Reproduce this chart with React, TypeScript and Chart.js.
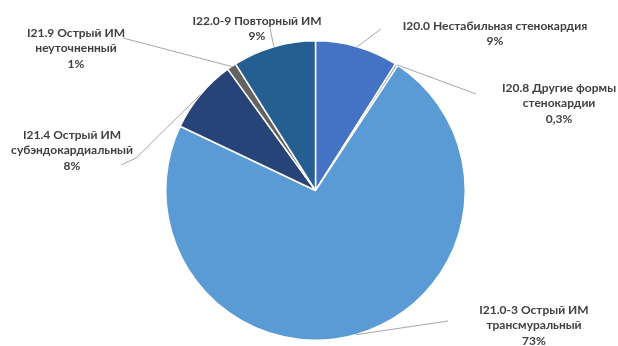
import React, { useEffect, useRef } from "react";
import { Chart, registerables } from "chart.js";

Chart.register(...registerables);

// Structure of acute coronary syndrome diagnoses (ICD-10 codes), percent
const codes = ["I20.0", "I20.8", "I21.0-3", "I21.4", "I21.9", "I22.0-9"];
const names = [
  ["Нестабильная стенокардия"],
  ["Другие формы", "стенокардии"],
  ["Острый ИМ", "трансмуральный"],
  ["Острый ИМ", "субэндокардиальный"],
  ["Острый ИМ", "неуточненный"],
  ["Повторный ИМ"],
];
const shares = [9, 0.3, 73, 8, 1, 9];
const shareLabels = ["9%", "0,3%", "73%", "8%", "1%", "9%"];
const colors = ["#4472C4", "#A5A5A5", "#5B9BD5", "#264478", "#636363", "#255E91"];

// Label placement: text block centre x, first line centre y, leader line bends/ends
const labelLayout = [
  { x: 495, y: 26, leader: [[381, 29]] },
  { x: 559, y: 88, leader: [[476, 94]] },
  { x: 534, y: 310, leader: [[448, 321]] },
  { x: 72, y: 135, leader: [[136, 158], [121, 165]] },
  { x: 76, y: 33, leader: [[123, 38]] },
  { x: 257, y: 21, leader: [[270, 28]] },
];

const FONT = "bold 12px Lato, 'Noto Sans', sans-serif";
const LINE_H = 15.5;

const labelsPlugin = {
  id: "calloutLabels",
  afterDatasetsDraw(chart: any) {
    const ctx = chart.ctx as CanvasRenderingContext2D;
    const meta = chart.getDatasetMeta(0);
    ctx.save();
    meta.data.forEach((arc: any, i: number) => {
      const { x, y, startAngle, endAngle, outerRadius } = arc.getProps(
        ["x", "y", "startAngle", "endAngle", "outerRadius"],
        true
      );
      const mid = (startAngle + endAngle) / 2;
      const sx = x + Math.cos(mid) * outerRadius;
      const sy = y + Math.sin(mid) * outerRadius;
      const lay = labelLayout[i];
      ctx.beginPath();
      ctx.strokeStyle = "#A6A6A6";
      ctx.lineWidth = 1;
      ctx.moveTo(sx, sy);
      lay.leader.forEach((p) => ctx.lineTo(p[0], p[1]));
      ctx.stroke();

      const lines = [codes[i] + " " + names[i][0], ...names[i].slice(1), shareLabels[i]];
      ctx.font = FONT;
      ctx.fillStyle = "#404040";
      ctx.textAlign = "center";
      ctx.textBaseline = "middle";
      lines.forEach((t, k) => ctx.fillText(t, lay.x, lay.y + k * LINE_H));
    });
    ctx.restore();
  },
};

export default function App() {
  const ref = useRef<HTMLCanvasElement>(null);

  useEffect(() => {
    document.body.style.margin = "0";
    const chart = new Chart(ref.current!, {
      type: "pie",
      data: {
        labels: codes,
        datasets: [
          {
            data: shares,
            backgroundColor: colors,
            borderColor: "#FFFFFF",
            borderWidth: 1.5,
          },
        ],
      },
      options: {
        animation: false,
        responsive: false,
        layout: { padding: { left: 165, right: 152, top: 40, bottom: 5 } },
        plugins: {
          legend: { display: false },
          tooltip: { enabled: false },
        },
      },
      plugins: [labelsPlugin],
    });
    return () => chart.destroy();
  }, []);

  return (
    <div style={{ width: 618, height: 346, background: "#FFFFFF" }}>
      <canvas ref={ref} width={618} height={346} />
    </div>
  );
}
